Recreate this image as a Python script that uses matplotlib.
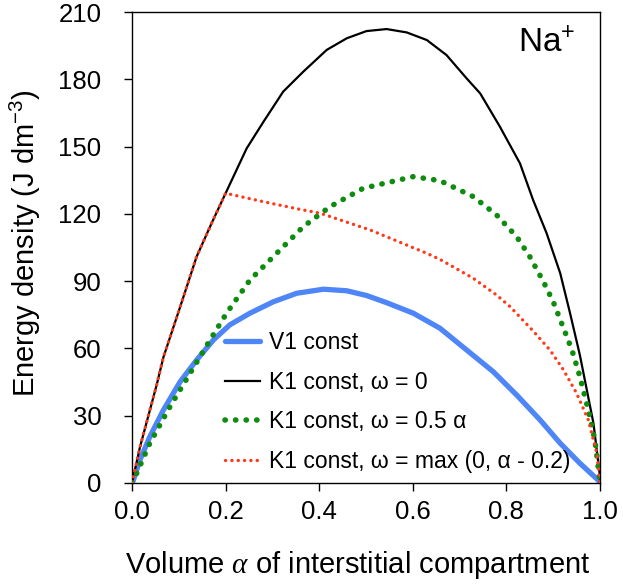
import matplotlib
matplotlib.use("Agg")
import matplotlib.pyplot as plt

# values
alpha_v1 = [0.0, 0.003, 0.017, 0.038, 0.067, 0.103, 0.138, 0.174, 0.209, 0.252,
            0.302, 0.352, 0.409, 0.459, 0.501, 0.544, 0.601, 0.658, 0.715,
            0.772, 0.822, 0.872, 0.915, 0.957, 0.996, 1.0]
energy_v1 = [0.0, 1.3, 10.3, 20.6, 32.5, 45.2, 54.8, 63.8, 70.5, 75.7,
             80.8, 84.6, 86.4, 85.7, 83.6, 80.4, 75.7, 69.0, 59.3,
             49.6, 39.2, 28.1, 17.7, 8.8, 1.3, 0.0]

alpha_k1_w0 = [0.0, 0.017, 0.053, 0.067, 0.103, 0.138, 0.170, 0.2, 0.245, 0.281,
               0.323, 0.366, 0.416, 0.459, 0.501, 0.544, 0.587, 0.630, 0.672,
               0.715, 0.744, 0.786, 0.829, 0.857, 0.886, 0.915, 0.936, 0.957,
               0.986, 0.999, 1.0]
energy_k1_w0 = [0.0, 16.0, 44.0, 56.0, 78.6, 100.9, 115.8, 129.2, 149.2, 161.1,
                174.5, 183.4, 193.1, 198.3, 201.5, 202.4, 200.9, 197.5, 190.8,
                180.4, 173.7, 158.9, 142.5, 126.2, 111.3, 93.5, 75.7, 57.0,
                26.6, 4.5, 0.0]

alpha_k1_half = [0.0, 0.010, 0.038, 0.081, 0.124, 0.167, 0.202, 0.252, 0.309,
                 0.366, 0.423, 0.494, 0.601, 0.658, 0.729, 0.779, 0.822, 0.850,
                 0.879, 0.900, 0.918, 0.940, 0.957, 0.975, 0.989, 0.996, 1.0]
energy_k1_half = [0.0, 4.3, 17.7, 34.0, 48.9, 63.8, 75.7, 90.5, 102.4,
                  114.3, 123.2, 131.4, 136.6, 134.8, 127.7, 119.5, 109.8, 100.9,
                  89.8, 80.8, 71.2, 59.3, 47.4, 32.5, 19.2, 7.3, 0.0]

alpha_k1_max = [0.0, 0.017, 0.053, 0.067, 0.103, 0.138, 0.170, 0.2, 0.281, 0.359,
                0.402, 0.509, 0.630, 0.658, 0.729, 0.779, 0.808, 0.857, 0.893,
                0.922, 0.950, 0.975, 0.993, 1.0]
energy_k1_max = [0.0, 16.0, 44.0, 56.0, 78.6, 100.9, 115.8, 129.2, 125.4, 122.0,
                 120.3, 112.8, 102.4, 99.7, 91.3, 83.8, 78.6, 67.8, 59.3,
                 50.4, 40.0, 28.1, 13.4, 0.0]

x_ticks = [0.0, 0.2, 0.4, 0.6, 0.8, 1.0]
y_ticks = [0, 30, 60, 90, 120, 150, 180, 210]

plt.rcParams["font.family"] = ["Liberation Sans", "DejaVu Sans"]
plt.rcParams["mathtext.fontset"] = "custom"
plt.rcParams["mathtext.rm"] = "Liberation Sans"
plt.rcParams["mathtext.it"] = "Liberation Serif:italic"
plt.rcParams["mathtext.default"] = "regular"

fig = plt.figure(figsize=(6.23, 5.86), dpi=100)
ax = fig.add_axes([0.2119, 0.1758, 0.7512, 0.8037])

ax.plot(alpha_v1, energy_v1, color="#4f86f7", lw=3.8, label="V1 const",
        solid_capstyle="round", solid_joinstyle="round", zorder=2)
ax.plot(alpha_k1_w0, energy_k1_w0, color="black", lw=1.6,
        label="K1 const, ω = 0", zorder=3)
ax.plot(alpha_k1_half, energy_k1_half, color="#0d8c0d", lw=4.0,
        linestyle=(0, (0.05, 1.85)), dash_capstyle="round",
        label="K1 const, ω = 0.5 α", zorder=4)
ax.plot(alpha_k1_max, energy_k1_max, color="#ff3a1a", lw=2.4,
        linestyle=(0, (0.05, 1.85)), dash_capstyle="round",
        label="K1 const, ω = max (0, α - 0.2)", zorder=5)

ax.set_xlim(0, 1)
ax.set_ylim(0, 210)
ax.set_xticks(x_ticks)
ax.set_xticklabels([f"{t:.1f}" for t in x_ticks])
ax.set_yticks(y_ticks)
ax.tick_params(direction="out", length=6, width=1, labelsize=18.5)
ax.tick_params(axis="x", pad=6)
ax.tick_params(axis="y", pad=16)
for side in ax.spines.values():
    side.set_linewidth(1)

ax.set_xlabel(r"Volume $\mathit{\alpha}$ of interstitial compartment",
              fontsize=21)
ax.xaxis.set_label_coords(0.483, -0.14)
ax.set_ylabel("Energy density (J dm$^{-3}$)", fontsize=21)
ax.yaxis.set_label_coords(-0.19, 0.51)

ax.text(0.948, 0.965, "Na$^{+}$", transform=ax.transAxes, ha="right",
        va="top", fontsize=24)

ax.legend(loc="upper left", bbox_to_anchor=(0.199, 0.322), frameon=False,
          fontsize=16.5, handlelength=1.5, handletextpad=0.4,
          labelspacing=0.72, borderpad=0, borderaxespad=0)

fig.savefig("out.png", dpi=100)
